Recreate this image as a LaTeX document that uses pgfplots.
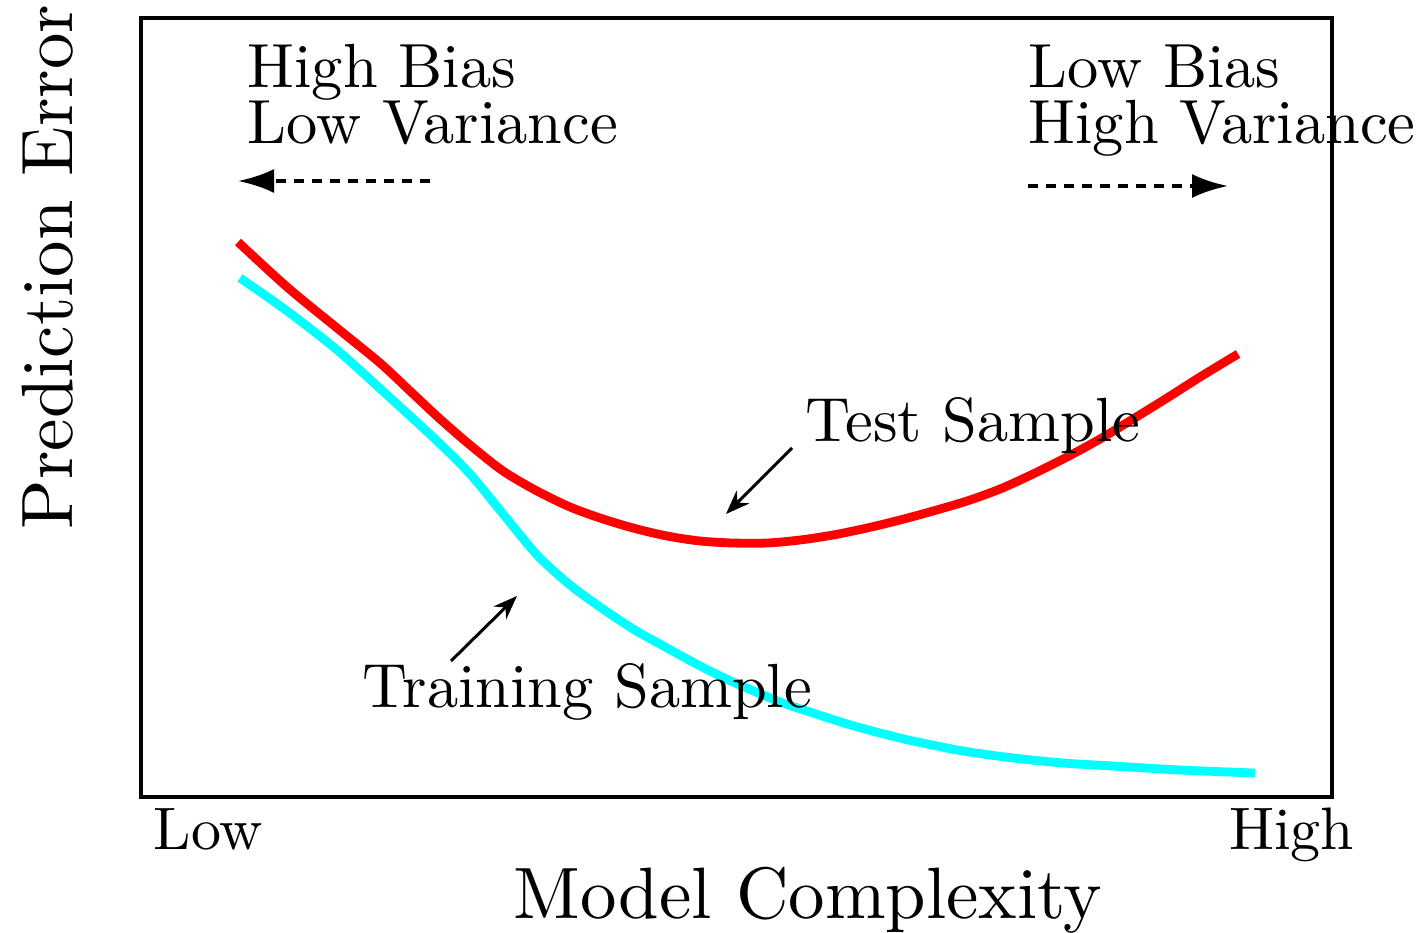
\documentclass[border=0pt]{standalone}
\usepackage{pgfplots}
\pgfplotsset{compat=1.18}
\usetikzlibrary{arrows.meta}
\definecolor{tred}{RGB}{255,0,0}
\definecolor{tcyan}{RGB}{0,255,255}
\pgfplotstableread{
x y
238 690
287 645
337 604
380 569
410 541
440 513
470 487
503 461
537 441
570 425
600 414
633 404
667 396
700 391
733 389
767 389
800 392
833 397
867 404
900 412
933 421
967 431
1000 443
1033 458
1067 475
1100 493
1133 513
1167 534
1200 555
1238 578
}\testtab
\pgfplotstableread{
x y
240 654
287 621
337 582
387 537
437 491
470 458
503 418
537 377
570 347
600 325
633 303
667 284
700 266
733 250
780 230
813 219
847 208
880 199
913 191
963 181
1013 174
1063 169
1113 166
1180 162
1255 159
}\traintab
\newcommand{\ann}[1]{\scalebox{1.56}{#1}}
\newcommand{\twoline}[2]{\scalebox{1.56}{\vbox{\lineskiplimit=-20pt\baselineskip=9pt\hbox{#1}\hbox{#2}}}}
\newcommand{\lab}[1]{\scalebox{1.82}{#1}}
\begin{document}
\begin{tikzpicture}
\begin{axis}[
  scale only axis,
  width=297.75pt, height=194.75pt,
  xmin=141, xmax=1332, ymin=135, ymax=914,
  ticks=none,
  axis line style={line width=1pt},
  clip=false,
]
\addplot[tred, line width=2.2pt, smooth, tension=0.5, line join=round] table {\testtab};
\addplot[tcyan, line width=2.2pt, smooth, tension=0.5, line join=round] table {\traintab};
% annotation arrows
\draw[line width=0.75pt, -{Stealth[length=6pt,width=4.5pt]}] (axis cs:792,484) -- (axis cs:726,418);
\draw[line width=0.75pt, -{Stealth[length=6pt,width=4.5pt]}] (axis cs:451,271) -- (axis cs:517,336);
\draw[line width=1pt, dash pattern=on 2.5pt off 2pt, -{Latex[length=9pt,width=6pt]}] (axis cs:430,751) -- (axis cs:238,751);
\draw[line width=1pt, dash pattern=on 2.5pt off 2pt, -{Latex[length=9pt,width=6pt]}] (axis cs:1028,746) -- (axis cs:1228,746);
% texts
\node[anchor=base west, inner sep=0pt] at (axis cs:247,788) {\twoline{High Bias}{Low Variance}};
\node[anchor=base west, inner sep=0pt] at (axis cs:1028,788) {\twoline{Low Bias}{High Variance}};
\node[anchor=base west, inner sep=0pt] at (axis cs:805,491) {\ann{Test Sample}};
\node[anchor=base west, inner sep=0pt] at (axis cs:362,225) {\ann{Training Sample}};
\node[anchor=base west, inner sep=0pt] at (axis cs:153,83) {\scalebox{1.5}{Low}};
\node[anchor=base east, inner sep=0pt] at (axis cs:1355,83) {\scalebox{1.5}{High}};
\node[anchor=base west, inner sep=0pt] at (axis cs:513,14) {\lab{Model Complexity}};
\node[anchor=base west, inner sep=0pt, rotate=90] at (axis cs:72,402) {\lab{Prediction Error}};
\coordinate (bbsw) at (axis cs:0,0);
\coordinate (bbne) at (axis cs:1419,932);
\end{axis}
\pgfresetboundingbox
\useasboundingbox (bbsw) rectangle (bbne);
\end{tikzpicture}
\end{document}
